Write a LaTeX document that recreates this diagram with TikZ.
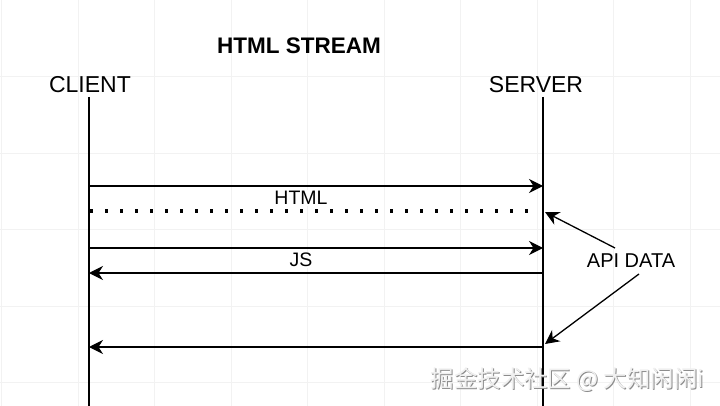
\documentclass[tikz,border=0pt]{standalone}
\usepackage{fontspec}
\setmainfont{Liberation Sans}
\newfontfamily\cjkfont{Noto Sans CJK SC}
\usetikzlibrary{arrows.meta}
\definecolor{gridc}{HTML}{F2F2F2}
\tikzset{
  lbl/.style={inner sep=1pt, font=\fontsize{23}{27}\selectfont},
  msglbl/.style={inner sep=1pt, fill=white, font=\fontsize{19.5}{23}\selectfont},
  life/.style={line width=1.3pt},
  msg/.style={line width=1.3pt, -{Stealth[length=14pt,width=14pt,inset=4.5pt]}},
  dotmsg/.style={line width=3.2pt, dash pattern=on 3.2pt off 11.8pt},
}
\begin{document}
\begin{tikzpicture}[x=1pt,y=-1pt]
\useasboundingbox (0,0) rectangle (720,406);
\fill[white] (0,0) rectangle (720,406);
% faint grid
\foreach \gx in {1.5,78,154.5,231,307.5,384,460.5,537,613.5,690}
  \draw[gridc, line width=0.8pt] (\gx,0) -- (\gx,406);
\foreach \gy in {76.5,153,229.5,306,382.5}
  \draw[gridc, line width=0.8pt] (0,\gy) -- (720,\gy);
% title and actors
\node[lbl, font=\fontsize{22.5}{26}\selectfont\bfseries] (title) at (299,46) {HTML STREAM};
\node[lbl] (client) at (90,84.5) {CLIENT};
\node[lbl] (server) at (536,84.5) {SERVER};
% lifelines
\coordinate (ctop) at (89,97);
\coordinate (cbot) at (89,406);
\coordinate (stop) at (543,97);
\coordinate (sbot) at (543,406);
\draw[life] (ctop) -- (cbot);
\draw[life] (stop) -- (sbot);
% message points
\coordinate (c1) at (89,186);  \coordinate (s1) at (543,186);
\coordinate (c2) at (90,211);  \coordinate (s2) at (535,211);
\coordinate (c3) at (89,248);  \coordinate (s3) at (543,248);
\coordinate (c4) at (89,273);  \coordinate (s4) at (543,273);
\coordinate (c5) at (89,347);  \coordinate (s5) at (543,347);
\draw[msg] (c1) -- (s1);
\draw[dotmsg] (c2) -- (s2);
\draw[msg] (c3) -- (s3);
\draw[msg] (s4) -- (c4);
\draw[msg] (s5) -- (c5);
\node[msglbl] (htmllbl) at (301,198) {HTML};
\node[msglbl] (jslbl) at (301,260) {JS};
% API DATA annotation
\node[lbl, font=\fontsize{20}{24}\selectfont] (api) at (631,261) {API DATA};
\coordinate (a1) at (615,248);
\coordinate (a2) at (639,274);
\coordinate (t1) at (545,212);
\coordinate (t2) at (545,344);
\draw[msg] (a1) -- (t1);
\draw[msg] (a2) -- (t2);
% watermark
\node[inner sep=0pt, text=gray!90, font=\cjkfont\fontsize{23.4}{26}\selectfont] (wmshadow) at (568.5,381) {掘金技术社区 @ 大知闲闲i};
\node[inner sep=0pt, text=gray!12, font=\cjkfont\fontsize{23.4}{26}\selectfont] (wm) at (567.5,380) {掘金技术社区 @ 大知闲闲i};
\end{tikzpicture}
\end{document}
